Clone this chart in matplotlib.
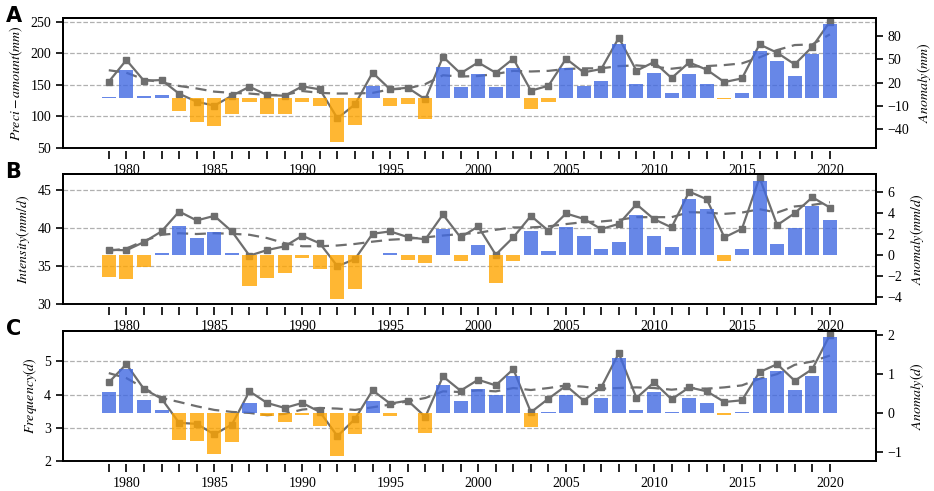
import numpy as np
import matplotlib
matplotlib.use("Agg")
import matplotlib.pyplot as plt

plt.rcParams["font.family"] = ["Liberation Serif", "DejaVu Serif"]
plt.rcParams["mathtext.fontset"] = "stix"
plt.rcParams["font.size"] = 10

years = list(range(1979, 2021))

# panel A: precipitation amount
amount = [154.8, 189.2, 156.3, 157.4, 135.7, 123.0, 116.7, 132.5, 146.8, 133.6,
          132.5, 147.4, 142.6, 96.6, 118.8, 169.0, 142.6, 145.2, 126.7, 194.4,
          168.0, 185.4, 169.0, 191.3, 140.5, 148.4, 191.3, 169.6, 174.9, 224.6,
          172.2, 186.0, 160.6, 185.4, 173.8, 154.2, 160.0, 214.0, 200.8, 182.3,
          210.3, 250.0]
amount_trend = [173.0, 169.0, 158.5, 153.7, 148.0, 144.0, 139.0, 137.0, 136.0, 133.6,
                133.6, 140.0, 137.0, 136.0, 136.0, 137.0, 142.6, 144.0, 151.0, 165.0,
                163.0, 163.8, 167.0, 172.0, 171.0, 172.0, 175.0, 176.0, 176.0, 179.6,
                180.7, 178.6, 175.4, 178.6, 179.6, 181.2, 183.9, 193.4, 205.0, 213.0,
                214.0, 230.0]
amount_anom = [1.5, 36.7, 2.4, 3.6, -17.0, -30.7, -36.3, -20.4, -5.4, -20.0,
               -20.0, -5.4, -10.5, -56.9, -35.0, 15.2, -10.5, -7.5, -26.8, 40.1,
               14.4, 31.5, 14.8, 38.4, -14.0, -4.9, 38.4, 15.7, 21.7, 70.2,
               17.8, 32.4, 6.7, 31.5, 18.7, -0.6, 6.7, 60.3, 47.9, 29.0,
               56.9, 95.0]

# panel B: intensity
intensity = [37.15, 37.07, 38.15, 39.54, 42.14, 40.97, 41.57, 39.54, 36.37, 37.10,
             37.59, 38.97, 37.98, 34.98, 35.94, 39.23, 39.54, 38.80, 38.50, 41.75,
             38.76, 40.19, 36.50, 38.76, 41.57, 39.62, 41.88, 41.18, 39.84, 40.53,
             43.09, 41.14, 40.06, 44.74, 43.74, 38.76, 39.88, 46.56, 40.36, 41.92,
             44.00, 42.66]
intensity_trend = [37.0, 37.3, 38.3, 39.1, 39.3, 39.2, 39.3, 39.23, 39.1, 38.67,
                   38.0, 37.6, 37.6, 37.7, 37.9, 38.2, 38.45, 38.58, 38.76, 39.0,
                   39.2, 39.35, 39.75, 40.06, 40.06, 40.2, 40.5, 40.75, 40.84, 41.05,
                   41.4, 41.4, 41.4, 42.05, 42.0, 41.83, 42.0, 42.44, 42.0, 42.8,
                   43.0, 43.35]
intensity_anom = [-2.1, -2.34, -1.2, 0.2, 2.8, 1.63, 2.2, 0.2, -2.95, -2.2,
                  -1.73, -0.32, -1.35, -4.26, -3.27, -0.05, 0.2, -0.48, -0.74, 2.47,
                  -0.6, 0.93, -2.7, -0.58, 2.24, 0.35, 2.63, 1.83, 0.51, 1.22,
                  3.78, 1.83, 0.7, 5.29, 4.36, -0.64, 0.51, 7.08, 1.03, 2.56,
                  4.68, 3.3]

# panel C: frequency
frequency = [4.37, 4.92, 4.17, 3.88, 3.15, 3.12, 2.80, 3.10, 4.10, 3.75,
             3.60, 3.75, 3.48, 2.75, 3.27, 4.13, 3.73, 3.82, 3.33, 4.55,
             4.12, 4.45, 4.28, 4.77, 3.47, 3.88, 4.27, 3.82, 4.22, 5.25,
             3.90, 4.37, 3.86, 4.22, 4.10, 3.78, 3.83, 4.68, 4.92, 4.42,
             4.77, 5.80]
frequency_trend = [4.65, 4.5, 4.2, 3.9, 3.78, 3.65, 3.54, 3.48, 3.45, 3.38,
                   3.42, 3.55, 3.6, 3.58, 3.54, 3.62, 3.7, 3.8, 3.9, 4.1,
                   4.08, 4.13, 4.1, 4.2, 4.14, 4.2, 4.28, 4.24, 4.18, 4.2,
                   4.22, 4.2, 4.15, 4.2, 4.18, 4.22, 4.28, 4.48, 4.62, 4.9,
                   5.0, 5.18]
frequency_anom = [0.53, 1.12, 0.34, 0.085, -0.68, -0.71, -1.04, -0.74, 0.27, -0.06,
                  -0.22, -0.04, -0.32, -1.09, -0.54, 0.3, -0.06, 0.01, -0.51, 0.72,
                  0.3, 0.61, 0.47, 0.95, -0.35, 0.04, 0.46, 0.01, 0.4, 1.42,
                  0.07, 0.54, 0.03, 0.38, 0.26, -0.04, 0.02, 0.9, 1.08, 0.6,
                  0.94, 1.94]

panels = [
    ("A", amount, amount_trend, amount_anom, r"$Preci-amount(mm)$", r"$Anomaly(mm)$",
     (49.5, 256), [50, 100, 150, 200, 250], (-64, 103), [-40, -10, 20, 50, 80]),
    ("B", intensity, intensity_trend, intensity_anom, r"$Intensity(mm/d)$", r"$Anomaly(mm/d)$",
     (30, 47), [30, 35, 40, 45], (-4.75, 7.7), [-4, -2, 0, 2, 4, 6]),
    ("C", frequency, frequency_trend, frequency_anom, r"$Frequency(d)$", r"$Anomaly(d)$",
     (2, 5.92), [2, 3, 4, 5], (-1.22, 2.1), [-1, 0, 1, 2]),
]

fig = plt.figure(figsize=(9.34, 4.91), dpi=100)
boxes = [(0.0675, 0.6986, 0.870, 0.2648),
         (0.0675, 0.3800, 0.870, 0.2650),
         (0.0675, 0.0611, 0.870, 0.2648)]

blue = "#4169E1"
orange = "#FFA500"
grey = "#6e6e6e"

for box, (tag, vals, trend, anom, ylab, ylab2, ylim, yt, ylim2, yt2) in zip(boxes, panels):
    ax = fig.add_axes(box)
    ax.plot(years, vals, color=grey, marker="s", markersize=5, linewidth=1.6, zorder=3)
    ax.plot(years, trend, color=grey, linestyle="--", linewidth=1.6, dashes=(5, 3), zorder=3)
    ax.set_xlim(1976.4, 2022.6)
    ax.set_ylim(*ylim)
    ax.set_yticks(yt)
    ax.set_xticks(years)
    ax.set_xticklabels([str(y) if y % 5 == 0 else "" for y in years])
    ax.grid(axis="y", linestyle="--", color="#b0b0b0", linewidth=0.9)
    ax.set_ylabel(ylab, fontsize=10)
    ax.tick_params(axis="x", length=6, width=1.2, direction="out")
    ax.tick_params(axis="y", length=5, width=1.2, direction="out")
    ax.spines["bottom"].set_position(("outward", 2))
    ax.spines["bottom"].set_visible(False)
    for s in ["left", "top", "right"]:
        ax.spines[s].set_linewidth(1.4)

    ax2 = ax.twinx()
    cols = [blue if a >= 0 else orange for a in anom]
    ax2.bar(years, anom, width=0.8, color=cols, alpha=0.8, zorder=2)
    ax2.set_ylim(*ylim2)
    ax2.set_yticks(yt2)
    ax2.set_ylabel(ylab2, fontsize=10)
    ax2.tick_params(axis="y", length=5, width=1.2, direction="out")
    for s in ax2.spines.values():
        s.set_linewidth(1.4)

    fig.text(0.006, box[1] + box[3] + 0.005, tag, fontsize=15, fontweight="bold",
             family="DejaVu Sans", va="center")

fig.savefig("out.png", dpi=100)
